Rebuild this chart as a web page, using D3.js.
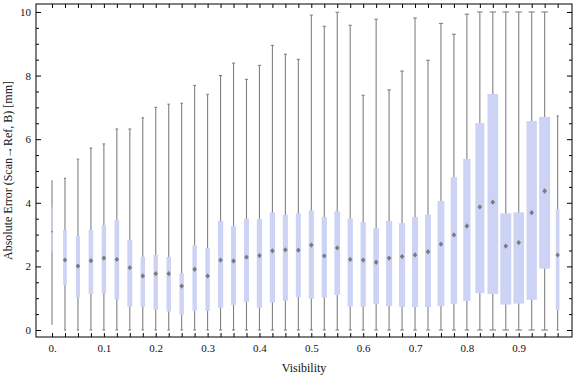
<!DOCTYPE html>
<html lang="en">
<head>
  <meta charset="utf-8">
  <title>Absolute error by visibility</title>
  <!-- d3 from the cdn -->
  <script src="https://d3js.org/d3.v7.min.js"></script>
  <style>
    body { margin: 0; background: #fff; }
    svg text { font-family: "Liberation Serif", "DejaVu Serif", serif; fill: #111; }
  </style>
</head>
<body>
  <div id="chart"></div>
  <script>
    /* visibility bins, one box per bin */
    var visibility = [0.000, 0.025, 0.050, 0.075, 0.100, 0.125, 0.150, 0.175, 0.200, 0.225,
                      0.250, 0.275, 0.300, 0.325, 0.350, 0.375, 0.400, 0.425, 0.450, 0.475,
                      0.500, 0.525, 0.550, 0.575, 0.600, 0.625, 0.650, 0.675, 0.700, 0.725,
                      0.750, 0.775, 0.800, 0.825, 0.850, 0.875, 0.900, 0.925, 0.950, 0.975];

    /* five number summaries */
    var whiskerLow  = [0.18, 0, 0, 0, 0, 0, 0, 0, 0, 0,
                       0, 0, 0, 0, 0, 0, 0, 0, 0, 0,
                       0, 0, 0, 0, 0, 0, 0, 0, 0, 0,
                       0, 0, 0, 0, 0, 0, 0, 0, 0, 0];
    var quartile1   = [2.46, 1.42, 1.02, 1.13, 1.14, 0.96, 0.73, 0.73, 0.63, 0.58,
                       0.47, 0.60, 0.60, 0.70, 0.79, 0.88, 0.70, 0.86, 0.92, 1.03,
                       0.98, 1.02, 1.10, 0.73, 0.73, 0.82, 0.75, 0.72, 0.72, 0.72,
                       0.75, 0.82, 0.91, 1.16, 1.13, 0.80, 0.83, 0.95, 1.93, 0.62];
    var medians     = [3.09, 2.20, 2.01, 2.18, 2.26, 2.22, 1.96, 1.70, 1.77, 1.77,
                       1.38, 1.91, 1.70, 2.20, 2.17, 2.29, 2.34, 2.49, 2.52, 2.51,
                       2.67, 2.33, 2.58, 2.22, 2.20, 2.13, 2.26, 2.31, 2.36, 2.46,
                       2.70, 2.99, 3.27, 3.87, 4.02, 2.64, 2.75, 3.69, 4.37, 2.36];
    var quartile3   = [3.86, 3.14, 2.96, 3.14, 3.30, 3.46, 2.83, 2.30, 2.36, 2.30,
                       1.79, 2.67, 2.58, 3.43, 3.27, 3.49, 3.49, 3.70, 3.62, 3.67,
                       3.76, 3.55, 3.73, 3.51, 3.39, 3.20, 3.43, 3.36, 3.55, 3.63,
                       4.06, 4.81, 5.38, 6.51, 7.42, 3.67, 3.70, 6.57, 6.70, 3.80];
    var whiskerHigh = [4.69, 4.77, 5.37, 5.72, 5.85, 6.32, 6.32, 6.67, 7.00, 7.10,
                       7.13, 7.69, 7.41, 8.00, 8.39, 7.88, 8.32, 8.95, 8.67, 8.51,
                       9.90, 9.55, 9.99, 9.58, 7.38, 9.77, 7.55, 8.14, 9.81, 8.48,
                       9.64, 9.30, 9.93, 10.0, 10.0, 10.0, 10.0, 10.0, 10.0, 6.73];
    /* relative weight of each bin (drives the box width) */
    var binWeight   = [0.12, 0.34, 0.37, 0.42, 0.40, 0.42, 0.44, 0.40, 0.40, 0.40,
                       0.40, 0.40, 0.40, 0.48, 0.46, 0.46, 0.48, 0.48, 0.46, 0.46,
                       0.46, 0.48, 0.52, 0.48, 0.48, 0.52, 0.55, 0.55, 0.55, 0.55,
                       0.63, 0.58, 0.66, 0.82, 0.97, 1.00, 0.97, 0.94, 1.00, 0.34];

    /* tick labels */
    var xTickValues = [0, 0.1, 0.2, 0.3, 0.4, 0.5, 0.6, 0.7, 0.8, 0.9];
    var xTickLabels = ["0.", "0.1", "0.2", "0.3", "0.4", "0.5", "0.6", "0.7", "0.8", "0.9"];
    var yMajorTicks = [0, 2, 4, 6, 8, 10];
    var yMinorTicks = [0.5, 1, 1.5, 2.5, 3, 3.5, 4.5, 5, 5.5, 6.5, 7, 7.5, 8.5, 9, 9.5];

    var width = 576, height = 377;
    // plot frame (note: "top" is taken by window.top, so use a prefix)
    var frameL = 36, frameR = 572, frameT = 4, frameB = 337;

    var svg = d3.select("#chart").append("svg")
        .attr("width", width)
        .attr("height", height);

    var x = d3.scaleLinear().domain([-0.0309, 1.0027]).range([frameL, frameR]);
    var y = d3.scaleLinear().domain([-0.22, 10.25]).range([frameB, frameT]);
    var boxWidth = d3.scaleLinear().domain([0, 1]).range([0, 11]);

    var data = visibility.map(function(v, i) {
      return { v: v, lo: whiskerLow[i], q1: quartile1[i], med: medians[i],
               q3: quartile3[i], hi: whiskerHigh[i], w: boxWidth(binWeight[i]) };
    });

    var node = svg.append("g").selectAll(".box")
        .data(data)
        .enter()
        .append("g")
        .attr("class", "box");

    // whisker line
    node.append("line")
        .attr("x1", function(d) { return x(d.v); })
        .attr("x2", function(d) { return x(d.v); })
        .attr("y1", function(d) { return y(d.lo); })
        .attr("y2", function(d) { return y(d.hi); })
        .attr("stroke", "#808080")
        .attr("stroke-width", 1.1);

    // caps
    ["lo", "hi"].forEach(function(k) {
      node.append("line")
          .attr("x1", function(d) { return x(d.v) - d.w * 0.3; })
          .attr("x2", function(d) { return x(d.v) + d.w * 0.3; })
          .attr("y1", function(d) { return y(d[k]); })
          .attr("y2", function(d) { return y(d[k]); })
          .attr("stroke", "#808080")
          .attr("stroke-width", 1.1);
    });

    // interquartile box
    node.append("rect")
        .attr("x", function(d) { return x(d.v) - d.w / 2; })
        .attr("width", function(d) { return d.w; })
        .attr("y", function(d) { return y(d.q3); })
        .attr("height", function(d) { return y(d.q1) - y(d.q3); })
        .attr("fill", "rgb(204,211,245)");

    // median diamond
    node.append("path")
        .attr("d", function(d) {
          var cx = x(d.v), cy = y(d.med);
          var hw = Math.min(2.3, d.w / 2 + 0.3), hh = hw * 1.15;
          return "M" + cx + "," + (cy - hh) + "L" + (cx + hw) + "," + cy +
                 "L" + cx + "," + (cy + hh) + "L" + (cx - hw) + "," + cy + "Z";
        })
        .attr("fill", "#7b7b7b");

    /* frame ticks, pointing inwards */
    function noLine(g) { g.select(".domain").remove(); g.selectAll(".tick line").attr("stroke", "#000"); }

    svg.append("g").attr("transform", "translate(0," + frameB + ")")
        .call(d3.axisBottom(x).tickValues(visibility).tickSize(-4).tickFormat(""))
        .call(noLine);
    svg.append("g").attr("transform", "translate(0," + frameT + ")")
        .call(d3.axisTop(x).tickValues(visibility).tickSize(-4).tickFormat(""))
        .call(noLine);

    [[frameL, d3.axisLeft], [frameR, d3.axisRight]].forEach(function(a) {
      svg.append("g").attr("transform", "translate(" + a[0] + ",0)")
          .call(a[1](y).tickValues(yMajorTicks).tickSize(-5).tickFormat(""))
          .call(noLine);
      svg.append("g").attr("transform", "translate(" + a[0] + ",0)")
          .call(a[1](y).tickValues(yMinorTicks).tickSize(-3).tickFormat(""))
          .call(noLine);
    });

    // tick labels
    svg.append("g").attr("transform", "translate(0," + frameB + ")")
        .call(d3.axisBottom(x).tickValues(xTickValues).tickSize(0).tickPadding(7)
              .tickFormat(function(d, i) { return xTickLabels[i]; }))
        .call(function(g) {
          g.select(".domain").remove();
          g.selectAll("text").attr("font-size", 11).attr("font-family", null);
        });
    svg.append("g").attr("transform", "translate(" + frameL + ",0)")
        .call(d3.axisLeft(y).tickValues(yMajorTicks).tickSize(0).tickPadding(5)
              .tickFormat(d3.format("d")))
        .call(function(g) {
          g.select(".domain").remove();
          g.selectAll("text").attr("font-size", 11).attr("font-family", null);
        });

    // frame
    svg.append("rect")
        .attr("x", frameL).attr("y", frameT)
        .attr("width", frameR - frameL).attr("height", frameB - frameT)
        .attr("fill", "none")
        .attr("stroke", "#000")
        .attr("stroke-width", 1);

    // axis titles
    svg.append("text")
        .attr("x", (frameL + frameR) / 2)
        .attr("y", 372)
        .attr("text-anchor", "middle")
        .attr("font-size", 12)
        .text("Visibility");

    svg.append("text")
        .attr("transform", "translate(12," + ((frameT + frameB) / 2) + ") rotate(-90)")
        .attr("text-anchor", "middle")
        .attr("font-size", 12)
        .text("Absolute Error (Scan\u2192Ref, B) [mm]");
  </script>
</body>
</html>
